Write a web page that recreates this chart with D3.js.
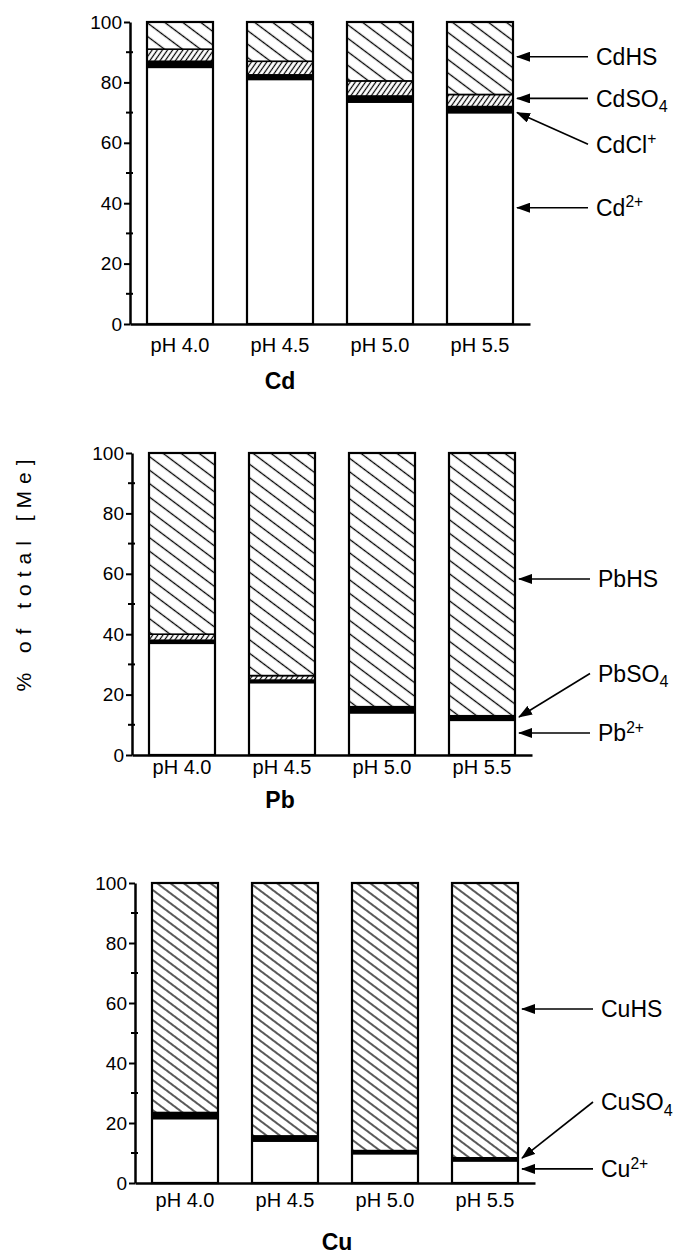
<!DOCTYPE html>
<html>
<head>
<meta charset="utf-8">
<script src="https://cdn.jsdelivr.net/npm/d3@7"></script>
<style>
  body { margin: 0; background: #fff; }
  text { font-family: "Liberation Sans", Arial, Helvetica, sans-serif; fill: #000; }
</style>
</head>
<body>
<div id="ChartArea"></div>
<script>
// ------------------------------------------------------------------
//  data (% of total metal)
// ------------------------------------------------------------------
const phLabels = ["pH 4.0", "pH 4.5", "pH 5.0", "pH 5.5"];
const yTicks = [0, 20, 40, 60, 80, 100];
const yMinorTicks = [10, 30, 50, 70, 90];

// Cd
const cdFree = [85, 81, 73.5, 70];
const cdCl   = [2, 1.5, 2, 2];
const cdSO4  = [4, 4.5, 5, 4];
const cdHS   = [9, 13, 19.5, 24];

// Pb
const pbFree = [37, 24, 14, 11.5];
const pbSO4  = [1, 0.8, 2, 1.5];
const pbMid  = [2, 1.5, 0, 0];
const pbHS   = [60, 73.7, 84, 87];

// Cu
const cuFree = [21.5, 14, 9.8, 7.4];
const cuSO4  = [2, 1.7, 1, 1];
const cuHS   = [76.5, 84.3, 89.2, 91.6];

// annotations: label, arrow tip value, label value
const cdNoteLabels = ["CdHS", "CdSO_4", "CdCl^+", "Cd^2+"];
const cdNoteTip    = [88.5, 74.7, 70, 38.5];
const cdNoteText   = [88.5, 74.7, 59.5, 38.5];

const pbNoteLabels = ["PbHS", "PbSO_4", "Pb^2+"];
const pbNoteTip    = [58.3, 12.6, 7.3];
const pbNoteText   = [58.3, 27, 7.3];

const cuNoteLabels = ["CuHS", "CuSO_4", "Cu^2+"];
const cuNoteTip    = [58, 8.3, 4.7];
const cuNoteText   = [58, 27, 4.7];

// ------------------------------------------------------------------
const W = 697, H = 1254;
const svg = d3.select("#ChartArea").append("svg")
    .attr("width", W).attr("height", H);
svg.append("rect").attr("width", W).attr("height", H).attr("fill", "#fff");

const defs = svg.append("defs");

// hatch patterns
function hatch(id, spacing, angle, sw) {
  const p = defs.append("pattern")
    .attr("id", id)
    .attr("patternUnits", "userSpaceOnUse")
    .attr("width", 20).attr("height", spacing)
    .attr("patternTransform", "rotate(" + angle + ")");
  p.append("rect").attr("width", 20).attr("height", spacing).attr("fill", "#fff");
  p.append("line")
    .attr("x1", 0).attr("x2", 20)
    .attr("y1", spacing / 2).attr("y2", spacing / 2)
    .attr("stroke", "#000").attr("stroke-width", sw);
}
hatch("backWide", 10.8, 36.9, 1.3);
hatch("backNarrow", 8, 36.9, 1.3);
hatch("fwd", 4.2, -55, 1.2);

// arrow head
defs.append("marker")
  .attr("id", "arrowHead")
  .attr("markerUnits", "userSpaceOnUse")
  .attr("viewBox", "0 0 14 10")
  .attr("refX", 13).attr("refY", 5)
  .attr("markerWidth", 14).attr("markerHeight", 10)
  .attr("orient", "auto")
  .append("path").attr("d", "M0,0 L14,5 L0,10 Z").attr("fill", "#000");

// ------------------------------------------------------------------
const panels = [
  { title: "Cd", axisX: 130, y0: 324, y100: 22, labPad: 14, titleX: 280, titleY: 389,
    keys: ["free", "cl", "so4", "hs"],
    series: [cdFree, cdCl, cdSO4, cdHS],
    fills: ["#fff", "#000", "url(#fwd)", "url(#backWide)"],
    notes: [cdNoteLabels, cdNoteTip, cdNoteText] },
  { title: "Pb", axisX: 132, y0: 755, y100: 453, labPad: 5, titleX: 280, titleY: 808,
    keys: ["free", "so4", "mid", "hs"],
    series: [pbFree, pbSO4, pbMid, pbHS],
    fills: ["#fff", "#000", "url(#fwd)", "url(#backWide)"],
    notes: [pbNoteLabels, pbNoteTip, pbNoteText] },
  { title: "Cu", axisX: 135, y0: 1183, y100: 883, labPad: 10, titleX: 337, titleY: 1250,
    keys: ["free", "so4", "hs"],
    series: [cuFree, cuSO4, cuHS],
    fills: ["#fff", "#000", "url(#backNarrow)"],
    notes: [cuNoteLabels, cuNoteTip, cuNoteText] }
];

// text with sub / superscript  ("CdSO_4", "Cd^2+")
function richText(sel, label) {
  const m = label.match(/^([^_^]+)([_^])?(.*)$/);
  sel.append("tspan").text(m[1]);
  if (m[2] === "_") {
    sel.append("tspan").attr("font-size", "0.7em").attr("dy", "0.35em").text(m[3]);
  } else if (m[2] === "^") {
    sel.append("tspan").attr("font-size", "0.68em").attr("dy", "-0.55em").text(m[3]);
  }
}

panels.forEach(function(p) {
  const g = svg.append("g");

  const y = d3.scaleLinear().domain([0, 100]).range([p.y0, p.y100]);
  const x = d3.scaleBand()
      .domain(phLabels)
      .range([p.axisX, p.axisX + 400])
      .paddingInner(0.34)
      .paddingOuter(0.17);

  const rows = phLabels.map(function(ph, i) {
    const r = { ph: ph };
    p.keys.forEach(function(k, j) { r[k] = p.series[j][i]; });
    return r;
  });
  const stacked = d3.stack().keys(p.keys)(rows);

  // segments
  stacked.forEach(function(layer, li) {
    g.selectAll(".seg" + li)
      .data(layer)
      .enter().append("rect")
      .attr("x", function(d) { return x(d.data.ph); })
      .attr("y", function(d) { return y(d[1]); })
      .attr("width", x.bandwidth())
      .attr("height", function(d) { return Math.max(0, y(d[0]) - y(d[1])); })
      .attr("fill", p.fills[li])
      .attr("stroke", "#000")
      .attr("stroke-width", 1.6);
  });

  // bar outline
  const top = stacked[stacked.length - 1];
  g.selectAll(".outline")
    .data(top)
    .enter().append("rect")
    .attr("x", function(d) { return x(d.data.ph); })
    .attr("y", function(d) { return y(d[1]); })
    .attr("width", x.bandwidth())
    .attr("height", function(d) { return y(0) - y(d[1]); })
    .attr("fill", "none")
    .attr("stroke", "#000")
    .attr("stroke-width", 2.2);

  // x axis
  const xAxis = g.append("g")
    .attr("transform", "translate(0," + p.y0 + ")")
    .call(d3.axisBottom(x).tickSize(0).tickSizeOuter(0).tickPadding(p.labPad));
  xAxis.select(".domain").attr("stroke-width", 2.5);
  xAxis.selectAll("text").attr("font-size", 20)
    .style("font-family", "\"Liberation Sans\", Arial, sans-serif");

  // y axis
  const yAxis = g.append("g")
    .attr("transform", "translate(" + p.axisX + ",0)")
    .call(d3.axisLeft(y).tickValues(yTicks).tickSize(6).tickSizeOuter(0).tickPadding(2));
  yAxis.select(".domain").attr("stroke-width", 2.5);
  yAxis.selectAll("line").attr("stroke-width", 2);
  yAxis.selectAll("text").attr("font-size", 19)
    .style("font-family", "\"Liberation Sans\", Arial, sans-serif");

  g.selectAll(".minor")
    .data(yMinorTicks)
    .enter().append("line")
    .attr("x1", p.axisX - 4).attr("x2", p.axisX + 3)
    .attr("y1", function(d) { return y(d); })
    .attr("y2", function(d) { return y(d); })
    .attr("stroke", "#000").attr("stroke-width", 2);

  // title
  g.append("text")
    .attr("x", p.titleX).attr("y", p.titleY)
    .attr("text-anchor", "middle")
    .attr("font-size", 23).attr("font-weight", "bold")
    .text(p.title);

  // annotations
  const tipX = p.axisX + 387, tailX = p.axisX + 458, textX = p.axisX + 466;
  const labels = p.notes[0], tips = p.notes[1], texts = p.notes[2];
  labels.forEach(function(lab, i) {
    g.append("line")
      .attr("x1", tailX).attr("y1", y(texts[i]))
      .attr("x2", tipX).attr("y2", y(tips[i]))
      .attr("stroke", "#000").attr("stroke-width", 1.6)
      .attr("marker-end", "url(#arrowHead)");
    const t = g.append("text")
      .attr("x", textX).attr("y", y(texts[i]))
      .attr("dy", "0.36em")
      .attr("font-size", 23);
    richText(t, lab);
  });
});

// y axis title
svg.append("text")
  .attr("transform", "translate(31,572) rotate(-90)")
  .attr("text-anchor", "middle")
  .attr("font-size", 21)
  .attr("letter-spacing", "7px")
  .text("% of total [Me]");
</script>
</body>
</html>
